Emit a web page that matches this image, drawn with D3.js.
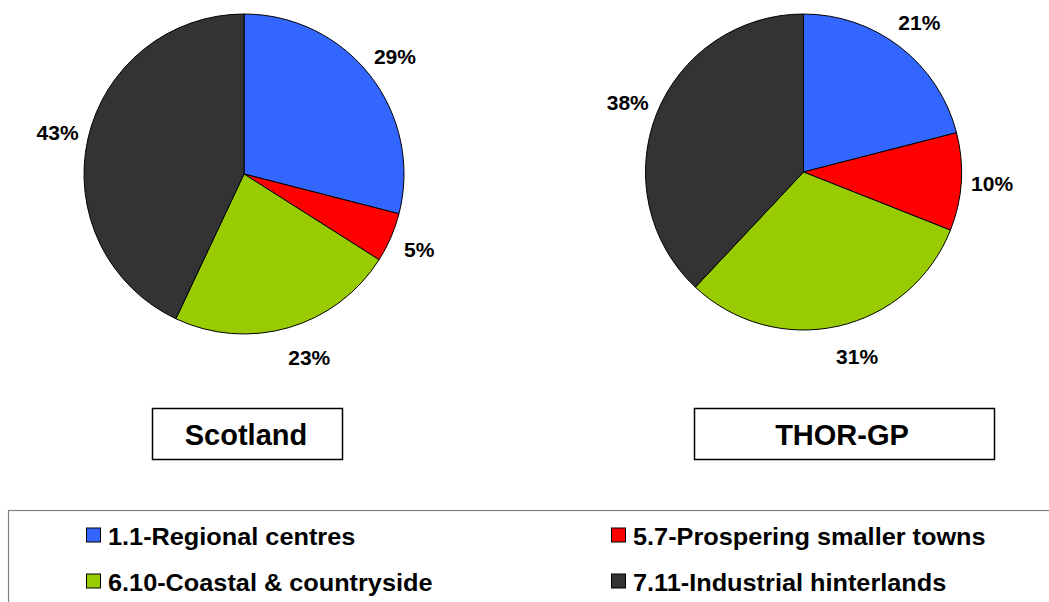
<!DOCTYPE html>
<html>
<head>
<meta charset="utf-8">
<script src="https://cdn.jsdelivr.net/npm/d3@7"></script>
<style>
  html, body { margin: 0; padding: 0; background: #fff; }
  svg { display: block; font-family: "Liberation Sans", Arial, sans-serif; font-weight: bold; }
</style>
</head>
<body>
<svg id="chart" width="1049" height="602"></svg>
<script>
// Area-type categories, shared by both pies
const categories = ["1.1-Regional centres", "5.7-Prospering smaller towns", "6.10-Coastal & countryside", "7.11-Industrial hinterlands"];
const colors = ["#3366FF", "#FF0000", "#99CC00", "#333333"];

// Share of each category (%)
const scotlandValues = [29, 5, 23, 43];
const thorValues = [21, 10, 31, 38];

const pieTitles = ["Scotland", "THOR-GP"];

const svg = d3.select("#chart");

const pie = d3.pie().sort(null).value(d => d).startAngle(0).endAngle(2 * Math.PI);
const color = d3.scaleOrdinal().domain(categories).range(colors);

function drawPie(values, cx, cy, r) {
  const g = svg.append("g").attr("transform", `translate(${cx},${cy})`);
  const arc = d3.arc().innerRadius(0).outerRadius(r);
  const labelArc = d3.arc().innerRadius(r + 31).outerRadius(r + 31);
  const arcs = pie(values);
  g.selectAll("path.slice")
    .data(arcs)
    .join("path")
    .attr("class", "slice")
    .attr("d", arc)
    .attr("fill", (d, i) => color(categories[i]))
    .attr("stroke", "#000")
    .attr("stroke-width", 1)
    .attr("stroke-linejoin", "round");
  // Percent labels sit just outside the rim; those near the bottom lean slightly right
  g.selectAll("text.pct")
    .data(arcs)
    .join("text")
    .attr("class", "pct")
    .attr("transform", d => {
      const [x, y] = labelArc.centroid(d);
      const mid = (d.startAngle + d.endAngle) / 2;
      const lean = Math.max(0, -Math.cos(mid) - 0.5) * 26;
      return `translate(${x + lean},${y})`;
    })
    .attr("text-anchor", "middle")
    .attr("dy", "0.36em")
    .attr("font-size", 21)
    .attr("fill", "#000")
    .text(d => d.data + "%");
}

drawPie(scotlandValues, 244, 174, 160);
drawPie(thorValues, 803.5, 172, 158);

// Title boxes under each pie
const titleBoxes = [
  { x: 152, y: 408, w: 190, h: 51, tx: 246, ty: 445 },
  { x: 694, y: 408, w: 300, h: 51, tx: 842, ty: 445 }
];
titleBoxes.forEach((b, i) => {
  svg.append("rect")
    .attr("x", b.x + 0.5).attr("y", b.y + 0.5)
    .attr("width", b.w).attr("height", b.h)
    .attr("fill", "#fff").attr("stroke", "#000").attr("stroke-width", 1.5);
  svg.append("text")
    .attr("x", b.tx).attr("y", b.ty)
    .attr("text-anchor", "middle")
    .attr("font-size", 29)
    .attr("fill", "#000")
    .text(pieTitles[i]);
});

// Legend frame (runs off the right and bottom edges)
svg.append("rect")
  .attr("x", 8.5).attr("y", 510.5)
  .attr("width", 1100).attr("height", 200)
  .attr("fill", "none").attr("stroke", "#808080").attr("stroke-width", 1.2);

const legendCols = [86, 611];
const legendRows = [544.5, 590.5];
const legendItems = svg.selectAll("g.legend")
  .data(categories)
  .join("g")
  .attr("class", "legend")
  .attr("transform", (d, i) => `translate(${legendCols[i % 2]},${legendRows[Math.floor(i / 2)]})`);

legendItems.append("rect")
  .attr("x", 0.5).attr("y", -16.5)
  .attr("width", 14).attr("height", 14)
  .attr("fill", d => color(d))
  .attr("stroke", "#000").attr("stroke-width", 1);

legendItems.append("text")
  .attr("transform", "translate(22,0) scale(1.1,1)")
  .attr("font-size", 23)
  .attr("fill", "#000")
  .text(d => d);
</script>
</body>
</html>
